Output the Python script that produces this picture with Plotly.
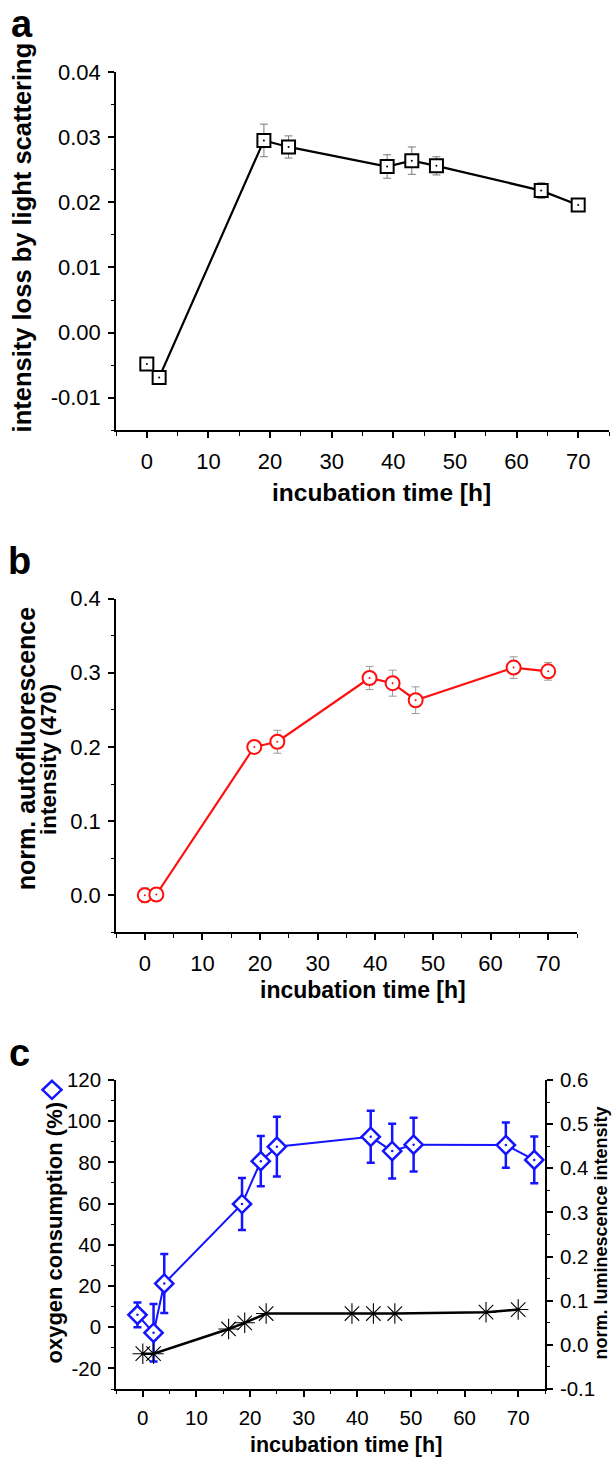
import plotly.graph_objects as go

W, H = 612, 1464
FONT = "Liberation Sans, Arial, sans-serif"

# ---------------- data ----------------
# panel a: intensity loss by light scattering
a_time = [0, 2, 19, 23, 39, 43, 47, 64, 70]
a_loss = [-0.0048, -0.0069, 0.0295, 0.0285, 0.0255, 0.0264, 0.0256, 0.0218, 0.0196]
a_err = [0.0004, 0.0003, 0.0025, 0.0017, 0.0018, 0.0021, 0.0014, 0.0012, 0.0004]

# panel b: normalised autofluorescence intensity (470)
b_time = [0, 2, 19, 23, 39, 43, 47, 64, 70]
b_fluo = [0.0, 0.001, 0.200, 0.207, 0.293, 0.286, 0.263, 0.307, 0.302]
b_err = [0.010, 0.004, 0.005, 0.0155, 0.0157, 0.0175, 0.018, 0.0146, 0.012]

# panel c: oxygen consumption (left) and luminescence (right)
c_o2_time = [-1, 2, 4, 18.5, 22, 25, 42.5, 46.5, 50.5, 67.7, 73]
c_o2 = [6, -2.7, 21.2, 59.8, 80.6, 87.6, 92.4, 85.5, 88.6, 88.4, 81.2]
c_o2_err = [6, 14, 14.3, 12.6, 12.2, 14.5, 12.6, 13.3, 13, 11, 11.3]
c_lum_time = [0, 2, 16, 19, 23, 39, 43, 47, 64, 70]
c_lum = [-0.020, -0.020, 0.036, 0.050, 0.071, 0.071, 0.071, 0.071, 0.074, 0.080]

# tick labels
x_ticks = [0, 10, 20, 30, 40, 50, 60, 70]
x_ticktext = ["0", "10", "20", "30", "40", "50", "60", "70"]
a_yticks = [-0.01, 0.0, 0.01, 0.02, 0.03, 0.04]
a_yticktext = ["-0.01", "0.00", "0.01", "0.02", "0.03", "0.04"]
b_yticks = [0.0, 0.1, 0.2, 0.3, 0.4]
b_yticktext = ["0.0", "0.1", "0.2", "0.3", "0.4"]
c_yticks = [-20, 0, 20, 40, 60, 80, 100, 120]
c_yticktext = ["-20", "0", "20", "40", "60", "80", "100", "120"]
c_y2ticks = [-0.1, 0.0, 0.1, 0.2, 0.3, 0.4, 0.5, 0.6]
c_y2ticktext = ["-0.1", "0.0", "0.1", "0.2", "0.3", "0.4", "0.5", "0.6"]

BLUE = "#1414ff"
RED = "#ff1010"


def px_x(p):
    return p / W


def px_y(p):
    return 1 - p / H


fig = go.Figure()

# panel a
fig.add_trace(go.Scatter(
    x=a_time, y=a_loss, mode="lines+markers", xaxis="x", yaxis="y",
    line=dict(color="black", width=2.2),
    marker=dict(symbol="square", size=13, color="white", line=dict(color="black", width=2)),
    error_y=dict(type="data", array=a_err, color="#7a7a7a", thickness=1, width=4),
    hoverinfo="skip", showlegend=False))
fig.add_trace(go.Scatter(
    x=a_time, y=a_loss, mode="markers", xaxis="x", yaxis="y",
    marker=dict(symbol="circle", size=2, color="black"), hoverinfo="skip", showlegend=False))

# panel b
fig.add_trace(go.Scatter(
    x=b_time, y=b_fluo, mode="lines+markers", xaxis="x2", yaxis="y2",
    line=dict(color=RED, width=2.2),
    marker=dict(symbol="circle", size=14, color="white", line=dict(color=RED, width=2)),
    error_y=dict(type="data", array=b_err, color="#9a9a9a", thickness=1, width=4),
    hoverinfo="skip", showlegend=False))
fig.add_trace(go.Scatter(
    x=b_time, y=b_fluo, mode="markers", xaxis="x2", yaxis="y2",
    marker=dict(symbol="circle", size=2, color=RED), hoverinfo="skip", showlegend=False))

# panel c: luminescence (right axis)
fig.add_trace(go.Scatter(
    x=c_lum_time, y=c_lum, mode="lines+markers", xaxis="x3", yaxis="y4",
    line=dict(color="black", width=2.5),
    marker=dict(symbol="asterisk-open", size=17, color="black", line=dict(color="black", width=1.1)),
    hoverinfo="skip", showlegend=False))
fig.add_trace(go.Scatter(
    x=c_lum_time, y=c_lum, mode="markers", xaxis="x3", yaxis="y4",
    marker=dict(symbol="circle", size=3, color="black"), hoverinfo="skip", showlegend=False))

# panel c: oxygen consumption (left axis)
fig.add_trace(go.Scatter(
    x=c_o2_time, y=c_o2, mode="lines+markers", xaxis="x3", yaxis="y3",
    line=dict(color=BLUE, width=2),
    marker=dict(symbol="diamond", size=14, color="white", line=dict(color=BLUE, width=2.5)),
    error_y=dict(type="data", array=c_o2_err, color=BLUE, thickness=2.5, width=4),
    hoverinfo="skip", showlegend=False))
fig.add_trace(go.Scatter(
    x=c_o2_time, y=c_o2, mode="markers", xaxis="x3", yaxis="y3",
    marker=dict(symbol="circle", size=2.5, color=BLUE), hoverinfo="skip", showlegend=False))


def xaxis(domain, anchor, fs):
    return dict(
        domain=domain, anchor=anchor, range=[-5, 75],
        tickmode="array", tickvals=x_ticks, ticktext=x_ticktext,
        showline=True, linecolor="black", linewidth=1.6, mirror=False,
        ticks="outside", ticklen=6, tickwidth=1.6, tickcolor="black",
        minor=dict(tickmode="array", tickvals=[-5, 5, 15, 25, 35, 45, 55, 65, 75],
                   ticks="outside", ticklen=3.5, tickwidth=1.4, tickcolor="black"),
        showgrid=False, zeroline=False,
        tickfont=dict(family=FONT, size=fs, color="black"),
        ticklabelstandoff=4,
    )


def yaxis(domain, anchor, rng, tv, tt, minor_vals, fs, side="left", overlaying=None):
    d = dict(
        domain=domain, anchor=anchor, range=rng, side=side,
        tickmode="array", tickvals=tv, ticktext=tt,
        showline=True, linecolor="black", linewidth=1.6, mirror=False,
        ticks="outside", ticklen=6, tickwidth=1.6, tickcolor="black",
        minor=dict(tickmode="array", tickvals=minor_vals,
                   ticks="outside", ticklen=3.5, tickwidth=1.4, tickcolor="black"),
        showgrid=False, zeroline=False,
        tickfont=dict(family=FONT, size=fs, color="black"),
        ticklabelstandoff=3,
    )
    if overlaying:
        d["overlaying"] = overlaying
    return d


fig.update_layout(
    width=W, height=H, margin=dict(l=0, r=0, t=0, b=0),
    paper_bgcolor="white", plot_bgcolor="white", showlegend=False,
    xaxis=xaxis([px_x(116), px_x(609)], "y", 22),
    yaxis=yaxis([px_y(425), px_y(61)], "x", [-0.015, 0.04], a_yticks, a_yticktext,
                [-0.015, -0.005, 0.005, 0.015, 0.025, 0.035], 22),
    xaxis2=xaxis([px_x(116), px_x(577)], "y2", 22),
    yaxis2=yaxis([px_y(935), px_y(596)], "x2", [-0.05, 0.4], b_yticks, b_yticktext,
                 [-0.05, 0.05, 0.15, 0.25, 0.35], 22),
    xaxis3=xaxis([px_x(116), px_x(545)], "y3", 20.5),
    yaxis3=yaxis([px_y(1399), px_y(1085)], "x3", [-30, 120], c_yticks, c_yticktext,
                 [-30, -10, 10, 30, 50, 70, 90, 110], 20.5),
    yaxis4=yaxis([px_y(1399), px_y(1085)], "x3", [-0.1, 0.6], c_y2ticks, c_y2ticktext,
                 [-0.05, 0.05, 0.15, 0.25, 0.35, 0.45, 0.55], 20.5, side="right", overlaying="y3"),
)


def ann(text, x, y, size, angle=0, color="black", bold=True):
    fig.add_annotation(
        text=f"<b>{text}</b>" if bold else text,
        x=px_x(x), y=px_y(y), xref="paper", yref="paper",
        xanchor="center", yanchor="middle", showarrow=False, textangle=angle,
        font=dict(family=FONT, size=size, color=color))


# panel letters
ann("a", 22, 12, 38)
ann("b", 19, 558, 38)
ann("c", 19, 1058, 38)

# axis titles
ann("intensity loss by light scattering", 22, 229, 25.5, angle=-90)
ann("incubation time [h]", 381, 488, 24.5)
ann("norm. autofluorescence", 26, 749, 25, angle=-90)
ann("intensity (470)", 48, 760, 22.5, angle=-90)
ann("incubation time [h]", 363, 994, 23)
ann("oxygen consumption (%)", 55, 1240, 22, angle=-90)
ann("norm. luminescence intensity", 601, 1241, 18, angle=-90)
ann("incubation time [h]", 346, 1456, 21.5)

# legend glyph for the oxygen series (open blue diamond)
fig.add_shape(type="path", xref="paper", yref="paper",
              xsizemode="pixel", ysizemode="pixel",
              xanchor=px_x(52), yanchor=px_y(1095),
              path="M 0,9 L 9.5,0 L 0,-9 L -9.5,0 Z",
              line=dict(color=BLUE, width=2.5), fillcolor="rgba(0,0,0,0)")

fig.write_html(
    "out.html",
    config={"displayModeBar": False},
    post_script="document.body.style.margin='0';document.body.style.padding='0';"
                "document.body.style.overflow='hidden';",
)
